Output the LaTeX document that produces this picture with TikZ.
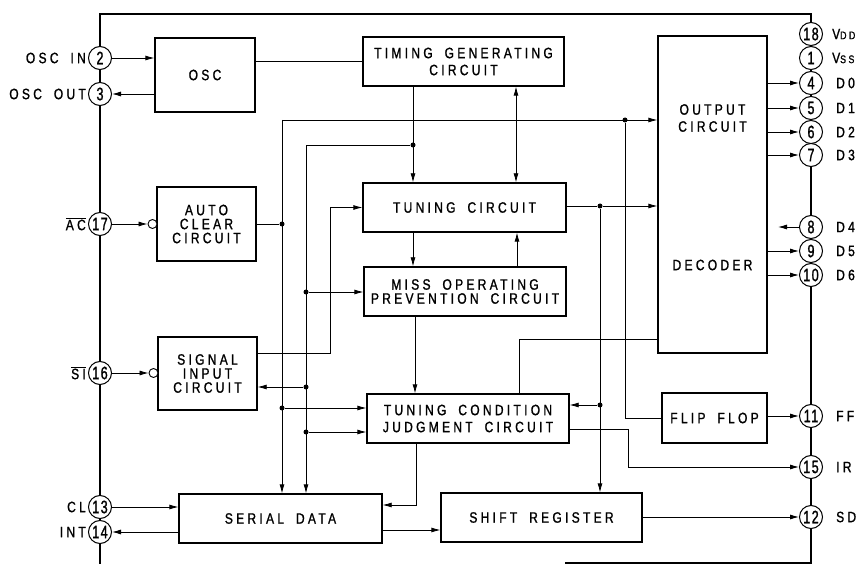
\documentclass[tikz,border=0pt]{standalone}
\usepackage{fontspec}
\setmainfont{Liberation Sans}[FakeStretch=0.8,LetterSpace=22,WordSpace=1.8,FakeBold=1.2]
\newfontfamily\pinfont{Liberation Sans}[FakeStretch=0.7,LetterSpace=8,FakeBold=1.2]
\usetikzlibrary{arrows.meta}
\tikzset{
    block/.style={rectangle, draw=black, line width=1.3pt, align=center, inner sep=0pt, font=\fontsize{15}{17}\selectfont},
    tight/.style={font=\fontsize{15}{14}\selectfont},
    pinc/.style={circle, draw=black, line width=1pt, fill=white, minimum size=23pt, inner sep=0pt, font=\pinfont\fontsize{18}{18}\selectfont},
    plbl/.style={inner sep=0pt, align=center, font=\fontsize{15}{17}\selectfont},
    arrow/.style={line width=0.8pt, -{Latex[length=9pt,width=5pt]}},
    dblarrow/.style={line width=0.8pt, {Latex[length=9pt,width=5pt]}-{Latex[length=9pt,width=5pt]}},
    wire/.style={line width=0.8pt},
    dot/.style={circle, fill=black, minimum size=5pt, inner sep=0pt},
    bubble/.style={circle, draw=black, line width=0.9pt, fill=white, minimum size=9pt, inner sep=0pt},
    chip/.style={line width=2.6pt}
}
\begin{document}
\begin{tikzpicture}[x=1pt,y=-1pt]
    \useasboundingbox (0,0) rectangle (860,564);
    % package outline
    \draw[chip] (100,564) -- (100,14) -- (811,14) -- (811,563) -- (565,563);

    % pins
    \foreach \n/\y in {2/58,3/94,17/224,16/373,13/507,14/532}
        \node[pinc] (p\n) at (100,\y) {\n};
    \foreach \n/\y in {18/34,1/58,4/83,5/108,6/132,7/155,8/227,9/251,10/275,11/416,15/467,12/517}
        \node[pinc] (p\n) at (811,\y) {\n};

    % pin names
    \node[plbl, anchor=east] (lin) at (86,58) {OSC IN};
    \node[plbl, anchor=east] (lout) at (86,94) {OSC OUT};
    \node[plbl, anchor=east] (lac) at (86,224) {$\overline{\hbox{AC}}$};
    \node[plbl, anchor=east] (lsi) at (86,373) {$\overline{\hbox{SI}}$};
    \node[plbl, anchor=east] (lcl) at (86,507) {CL};
    \node[plbl, anchor=east] (lint) at (86,532) {INT};
    \node[plbl, anchor=west] (lvdd) at (832,34) {V{\fontsize{11}{11}\selectfont DD}};
    \node[plbl, anchor=west] (lvss) at (832,58) {V{\fontsize{11}{11}\selectfont SS}};
    \foreach \n/\t in {4/D0,5/D1,6/D2,7/D3,8/D4,9/D5,10/D6,11/FF,15/IR,12/SD}
        \node[plbl, anchor=west] (l\n) at (836,0 |- p\n) {\t};

    % blocks
    \node[block, minimum width=100, minimum height=74] (osc) at (205,75) {OSC};
    \node[block, minimum width=201, minimum height=49] (tim) at (463.5,61.5) {TIMING GENERATING\\CIRCUIT};
    \node[block, minimum width=109, minimum height=317] (outdec) at (712.5,194.5) {};
    \node[plbl] (outtxt) at (712.5,118) {OUTPUT\\CIRCUIT};
    \node[plbl] (dectxt) at (712.5,265) {DECODER};
    \node[block, tight, minimum width=99, minimum height=74] (acl) at (206.5,224) {AUTO\\CLEAR\\CIRCUIT};
    \node[block, tight, minimum width=99, minimum height=73] (sig) at (207.5,373.5) {SIGNAL\\INPUT\\CIRCUIT};
    \node[block, minimum width=203, minimum height=49] (tun) at (464.5,207.5) {TUNING CIRCUIT};
    \node[block, tight, minimum width=202, minimum height=49] (miss) at (465,291.5) {MISS OPERATING\\PREVENTION CIRCUIT};
    \node[block, minimum width=202, minimum height=49] (tcj) at (468,418.5) {TUNING CONDITION\\JUDGMENT CIRCUIT};
    \node[block, minimum width=203, minimum height=49] (ser) at (280.5,518.5) {SERIAL DATA};
    \node[block, minimum width=201, minimum height=49] (shr) at (541.5,517.5) {SHIFT REGISTER};
    \node[block, minimum width=105, minimum height=50] (ff) at (714.5,418) {FLIP FLOP};
    \node[bubble] (bac) at (152.5,224) {};
    \node[bubble] (bsi) at (153.5,373) {};

    % bus corners and junctions
    \coordinate (bA) at (282,120);
    \coordinate (bB) at (306,145);
    \coordinate (bC) at (330,353);
    \coordinate (d4) at (778,227);
    \node[dot] (j1) at (413,145) {};
    \node[dot] (j2) at (625,120) {};
    \node[dot] (j3) at (282,408) {};
    \node[dot] (j4) at (acl.east -| bA) {};
    \node[dot] (j5) at (306,292) {};
    \node[dot] (j6) at (306,387) {};
    \node[dot] (j7) at (306,432) {};
    \node[dot] (j8) at (600,206) {};
    \node[dot] (j9) at (600,405) {};

    % oscillator
    \draw[arrow] (p2) -- (p2 -| osc.west);
    \draw[arrow] (p3 -| osc.west) -- (p3);
    \draw[wire] (tim.west -| osc.east) -- (tim.west);
    \draw[arrow] (p17) -- (bac);
    \draw[arrow] (p16) -- (bsi);
    \draw[arrow] (p13) -- (p13 -| ser.west);
    \draw[arrow] (p14 -| ser.west) -- (p14);

    % timing and reset buses
    \draw[arrow] (tim.south -| j1) -- (tun.north -| j1);
    \draw[arrow] (j1) -- (bB) -- (ser.north -| bB);
    \draw[wire] (acl.east) -- (j4);
    \draw[arrow] (bA) -- (outdec.west |- bA);
    \draw[arrow] (bA) -- (ser.north -| bA);
    \draw[wire] (j2) -- (j2 |- ff.west) -- (ff.west);
    \draw[arrow] (j3) -- (j3 -| tcj.west);
    \draw[arrow] (j5) -- (j5 -| miss.west);
    \draw[arrow] (j6) -- (j6 -| sig.east);
    \draw[arrow] (j7) -- (j7 -| tcj.west);
    \draw[arrow] (sig.east |- bC) -- (bC) -- (bC |- tun.west) -- (tun.west);

    % tuning section
    \draw[dblarrow] (tim.south -| 516,0) -- (tun.north -| 516,0);
    \draw[arrow] (tun.south -| 413,0) -- (miss.north -| 413,0);
    \draw[arrow] (miss.north -| 517,0) -- (tun.south -| 517,0);
    \draw[arrow] (miss.south -| 415,0) -- (tcj.north -| 415,0);
    \draw[wire] (tun.east |- j8) -- (j8);
    \draw[arrow] (j8) -- (j8 -| outdec.west);
    \draw[arrow] (j8) -- (j8 |- shr.north);
    \draw[arrow] (j9) -- (j9 -| tcj.east);
    \draw[wire] (outdec.west |- 0,339) -- (519,339) -- (tcj.north -| 519,0);
    \draw[arrow] (tcj.east |- 0,429) -- (628,429) -- (628,467) -- (p15);
    \draw[arrow] (tcj.south -| 416,0) -- (416,505) -- (ser.east |- 0,505);
    \draw[arrow] (ser.east |- 0,530) -- (shr.west |- 0,530);

    % outputs
    \draw[arrow] (shr.east |- p12) -- (p12);
    \draw[arrow] (ff.east |- p11) -- (p11);
    \foreach \n in {4,5,6,7,9,10}
        \draw[arrow] (outdec.east |- p\n) -- (p\n);
    \draw[arrow] (p8) -- (d4);
\end{tikzpicture}
\end{document}
